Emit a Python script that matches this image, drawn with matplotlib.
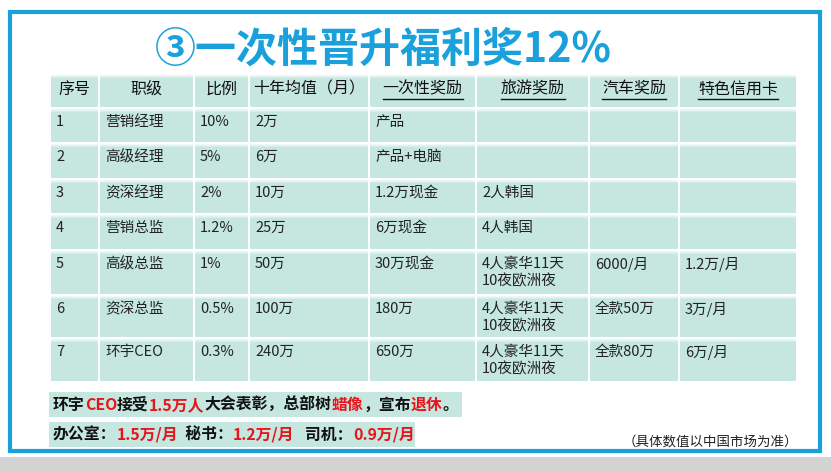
import matplotlib.pyplot as plt
from matplotlib.patches import Rectangle

plt.rcParams['font.family'] = ['Noto Sans CJK SC', 'DejaVu Sans']

# 表格内容
title = '③一次性晋升福利奖12%'
headers = ['序号', '职级', '比例', '十年均值（月）', '一次性奖励', '旅游奖励', '汽车奖励', '特色信用卡']
underlined = [False, False, False, False, True, True, True, True]
nums = ['1', '2', '3', '4', '5', '6', '7']
levels = ['营销经理', '高级经理', '资深经理', '营销总监', '高级总监', '资深总监', '环宇CEO']
ratios = ['10%', '5%', '2%', '1.2%', '1%', '0.5%', '0.3%']
avg10 = ['2万', '6万', '10万', '25万', '50万', '100万', '240万']
bonus = ['产品', '产品+电脑', '1.2万现金', '6万现金', '30万现金', '180万', '650万']
travel = ['', '', '2人韩国', '4人韩国', '4人豪华11天\n10夜欧洲夜',
          '4人豪华11天\n10夜欧洲夜', '4人豪华11天\n10夜欧洲夜']
car = ['', '', '', '', '6000/月', '全款50万', '全款80万']
card = ['', '', '', '', '1.2万/月', '3万/月', '6万/月']

# 底部说明（文字, 是否红色）
note1 = [('环宇', False), ('CEO', True), ('接受', False), ('1.5万人', True),
         ('大会表彰，总部树', False), ('蜡像', True), ('，宣布', False),
         ('退休', True), ('。', False)]
note2 = [('办公室：', False), ('1.5万/月', True), ('  秘书：', False),
         ('1.2万/月', True), ('   司机：', False), ('0.9万/月', True)]
footnote = '（具体数值以中国市场为准）'

# 布局（像素）
col_edges = [50, 99, 194, 249, 369, 476, 589, 679, 797]
row_edges = [74, 108, 143, 179, 214, 250, 295, 338, 382]
teal = '#c5e7df'
blue = '#1aa1dc'
red = '#e8141c'

fig = plt.figure(figsize=(8.31, 4.71), dpi=100)
ax = fig.add_axes([0, 0, 1, 1])
ax.set_xlim(0, 831)
ax.set_ylim(471, 0)
ax.axis('off')

# 外框和底部灰条
ax.add_patch(Rectangle((9.5, 12), 810, 438.5, fill=False, ec=blue, lw=3))
ax.add_patch(Rectangle((0, 457), 831, 14, color='#d3d3d3', lw=0))

ax.text(383, 50, title, fontsize=29.5, fontweight='heavy', color=blue,
        ha='center', va='center')

# 单元格
for r in range(len(row_edges) - 1):
    for c in range(len(col_edges) - 1):
        x0, x1 = col_edges[c], col_edges[c + 1]
        y0, y1 = row_edges[r], row_edges[r + 1]
        ax.add_patch(Rectangle((x0 + 0.7, y0 + 1), x1 - x0 - 1.4, y1 - y0 - 2,
                               color=teal, lw=0))
        # 行顶部的浅色渐变
        for k, a in enumerate([0.75, 0.5, 0.25]):
            ax.add_patch(Rectangle((x0 + 0.7, y0 + 1 + k), x1 - x0 - 1.4, 1,
                                   color='white', alpha=a, lw=0))

fig.canvas.draw()
renderer = fig.canvas.get_renderer()
inv = ax.transData.inverted()

# 表头
for c, h in enumerate(headers):
    xc = (col_edges[c] + col_edges[c + 1]) / 2
    t = ax.text(xc, 89, h, fontsize=11.5, fontweight='medium', ha='center',
                va='center', color='#111111')
    if underlined[c]:
        bb = t.get_window_extent(renderer)
        (xa, _), (xb, _) = inv.transform([(bb.x0, bb.y0), (bb.x1, bb.y0)])
        ax.plot([xa, xb], [99, 99], color='#111111', lw=1)

# 数据
columns = [nums, levels, ratios, avg10, bonus, travel, car, card]
for r in range(len(nums)):
    for c, col in enumerate(columns):
        ax.text(col_edges[c] + 6, row_edges[r + 1] + 7, col[r], fontsize=10.5,
                ha='left', va='top', color='#222222', linespacing=1.25)

# 底部说明
ax.add_patch(Rectangle((49, 392), 413, 25, color=teal, lw=0))
ax.add_patch(Rectangle((49, 422), 366, 25, color=teal, lw=0))


def colored_line(x, y, parts):
    prev = None
    for s, is_red in parts:
        kw = dict(fontsize=11.4, fontweight='bold', color=red if is_red else '#111111')
        if prev is None:
            prev = ax.text(x, y, s, ha='left', va='center', **kw)
        else:
            prev = ax.annotate(s, xy=(1, 0), xycoords=prev, ha='left', va='bottom', **kw)


colored_line(53, 405, note1)
colored_line(53, 435, note2)

ax.text(798, 442, footnote, fontsize=9.7, ha='right', va='center', color='#222222')

plt.savefig('out.png', dpi=100)
